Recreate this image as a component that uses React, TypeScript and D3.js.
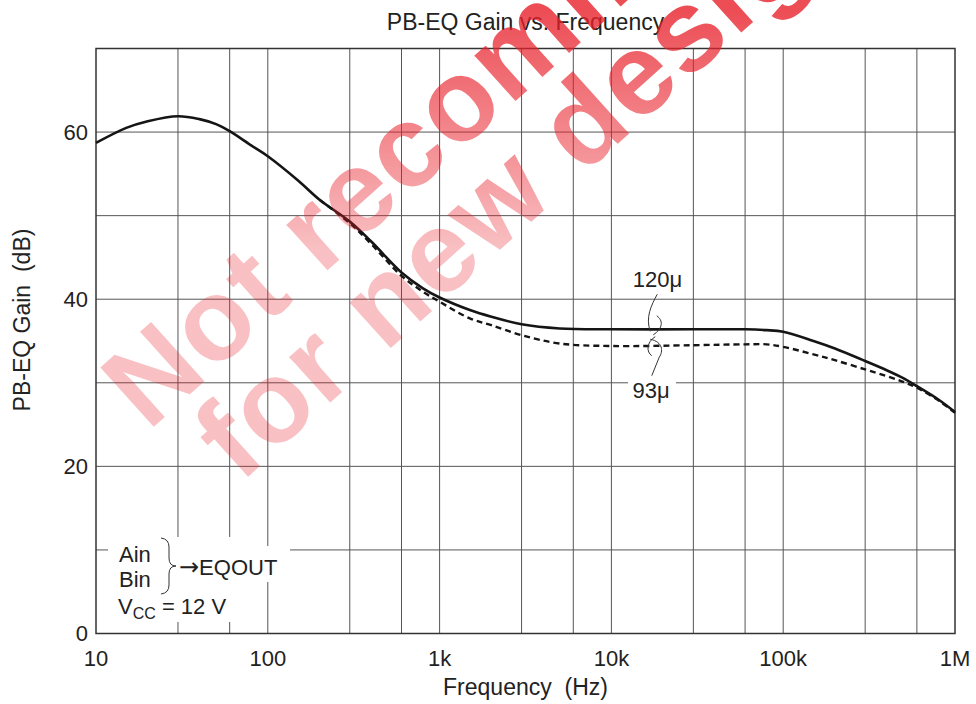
import React from 'react'
import * as d3 from 'd3'

// frequencies (Hz) and gain (dB)
const freqs120 = [10, 15, 20, 30, 40, 50, 60, 80, 100, 150, 200, 300, 400, 600, 800, 1000, 1500, 2000, 3000, 5000, 10000, 30000, 60000, 80000, 100000, 150000, 200000, 300000, 400000, 500000, 600000, 800000, 1000000]
const gain120 = [58.7, 60.5, 61.3, 61.9, 61.55, 60.95, 60.1, 58.4, 57.1, 54.2, 51.9, 49.3, 46.9, 43.2, 41.3, 40.2, 38.7, 37.9, 37.0, 36.5, 36.4, 36.4, 36.4, 36.3, 36.1, 35.0, 34.1, 32.6, 31.5, 30.55, 29.6, 28.0, 26.5]

const freqs93 = [200, 300, 400, 600, 800, 1000, 1500, 2000, 3000, 5000, 10000, 30000, 60000, 80000, 100000, 150000, 200000, 300000, 400000, 500000, 600000, 800000, 1000000]
const gain93 = [51.9, 49.1, 46.6, 42.8, 40.9, 39.7, 37.7, 36.9, 35.7, 34.7, 34.4, 34.5, 34.6, 34.6, 34.3, 33.4, 32.7, 31.6, 30.8, 30.1, 29.4, 27.9, 26.4]

const xTickValues = [10, 100, 1000, 10000, 100000, 1000000]
const xTickLabels = ['10', '100', '1k', '10k', '100k', '1M']
const xGridValues = [30, 60, 100, 300, 600, 1000, 3000, 6000, 10000, 30000, 60000, 100000, 300000, 600000]
const yTickValues = [0, 20, 40, 60]
const yGridValues = [10, 20, 30, 40, 50, 60]

const watermarkLines = ['Not recommended', 'for new designs']

const FONT = '"Liberation Sans", Arial, Helvetica, sans-serif'

const ANGLE = 42
// screen point -> coordinates inside a group rotated by -ANGLE
function toRotated(px: number, py: number) {
    const a = ANGLE * Math.PI / 180
    return [px * Math.cos(a) - py * Math.sin(a), px * Math.sin(a) + py * Math.cos(a)]
}

export default function App() {
    const width = 976
    const height = 704
    const margin = { top: 48.5, right: 21, bottom: 70.5, left: 96 }

    const x = d3.scaleLog().domain([10, 1e6]).range([margin.left, width - margin.right])
    const y = d3.scaleLinear().domain([0, 70]).range([height - margin.bottom, margin.top])

    const line = d3.line<[number, number]>()
        .x(d => x(d[0]))
        .y(d => y(d[1]))
        .curve(d3.curveCatmullRom.alpha(0.5))

    const d120 = line(freqs120.map((f, i) => [f, gain120[i]] as [number, number])) ?? ''
    const d93 = line(freqs93.map((f, i) => [f, gain93[i]] as [number, number])) ?? ''

    const x0 = x.range()[0], x1 = x.range()[1]
    const y0 = y.range()[0], y1 = y.range()[1]

    // leader marks anchor
    const ax = x(18000)
    const ay = y(36.4)
    const by = y(34.5)

    const wmStarts = [toRotated(148, 432), toRotated(240, 484)]

    return (
        <svg width={width} height={height} style={{ position: 'absolute', left: 0, top: 0, background: '#fff' }}
            fontFamily={FONT}>
            <defs>
                <linearGradient id="wm" gradientUnits="userSpaceOnUse" gradientTransform={`rotate(${ANGLE})`}
                    x1="0" y1="10" x2="0" y2="250">
                    <stop offset="0" stopColor="#e8202a" stopOpacity="0.8" />
                    <stop offset="1" stopColor="#e8202a" stopOpacity="0.28" />
                </linearGradient>
            </defs>

            {/* grid */}
            <g stroke="#555" strokeWidth={1}>
                {xGridValues.map(v => (
                    <line key={'gx' + v} x1={x(v)} x2={x(v)} y1={y0} y2={y1} />
                ))}
                {yGridValues.map(v => (
                    <line key={'gy' + v} x1={x0} x2={x1} y1={y(v)} y2={y(v)} />
                ))}
            </g>
            <rect x={x0} y={y1} width={x1 - x0} height={y0 - y1} fill="none" stroke="#333" strokeWidth={1.5} />

            {/* curves */}
            <path d={d120} fill="none" stroke="#151515" strokeWidth={2.6} />
            <path d={d93} fill="none" stroke="#151515" strokeWidth={2.4} strokeDasharray="6,4" />

            {/* curve labels */}
            <rect x={628} y={378} width={48} height={24} fill="#fff" />
            <text x={657.5} y={286.7} fontSize={22} textAnchor="middle" fill="#222">120μ</text>
            <text x={651} y={398.3} fontSize={22} textAnchor="middle" fill="#222">93μ</text>
            <g fill="none" stroke="#333" strokeWidth={1}>
                <path d={`M${ax + 2},${ay - 35} C${ax - 4},${ay - 24} ${ax - 10},${ay - 12} ${ax - 5},${ay + 2}`} />
                <path d={`M${ax + 1.5},${ay - 13.5} C${ax + 8},${ay - 9} ${ax + 8},${ay - 1} ${ax - 2},${ay + 5.5}`} />
                <path d={`M${ax},${by - 8.5} C${ax - 9},${by - 3} ${ax - 9},${by + 7} ${ax - 3.5},${by + 10.5}`} />
                <path d={`M${ax - 5},${by - 6} C${ax + 8},${by - 3} ${ax + 8},${by + 6} ${ax + 4},${by + 12} L${ax - 3.5},${by + 30.5}`} />
            </g>

            {/* conditions box */}
            <rect x={108} y={537} width={137} height={85} fill="#fff" />
            <rect x={108} y={546} width={182} height={36} fill="#fff" />
            <g fontSize={22} fill="#222">
                <text x={119} y={561.7}>Ain</text>
                <text x={119} y={586.7}>Bin</text>
                <text x={179} y={575}><tspan fontFamily="DejaVu Sans" fontSize={24}>→</tspan>EQOUT</text>
                <text x={118} y={614}>V<tspan fontSize={16} dy={5}>CC</tspan><tspan dy={-5}> = 12 V</tspan></text>
            </g>
            <path d="M161,538 Q169,539 169,547 L169,558 Q169,566 176,566 Q169,566 169,574 L169,585 Q169,593 161,594"
                fill="none" stroke="#333" strokeWidth={1} />

            {/* axes labels */}
            <g fontSize={22} fill="#222">
                {yTickValues.map(v => (
                    <text key={'yt' + v} x={88} y={y(v) + 7.5} textAnchor="end">{v}</text>
                ))}
                {xTickValues.map((v, i) => (
                    <text key={'xt' + v} x={x(v)} y={666} textAnchor="middle">{xTickLabels[i]}</text>
                ))}
            </g>
            <text x={(x0 + x1) / 2} y={30} fontSize={23} textAnchor="middle" fill="#222">PB-EQ Gain vs. Frequency</text>
            <text x={(x0 + x1) / 2} y={695} fontSize={23} textAnchor="middle" fill="#222" style={{ whiteSpace: 'pre' }}>{'Frequency  (Hz)'}</text>
            <text transform={`translate(30,320) rotate(-90)`} fontSize={23} textAnchor="middle" fill="#222" style={{ whiteSpace: 'pre' }}>{'PB-EQ Gain  (dB)'}</text>

            {/* watermark */}
            <g transform={`rotate(${-ANGLE})`} fill="url(#wm)" fontSize={116} fontWeight="bold" fontFamily={FONT} letterSpacing={2}>
                {watermarkLines.map((t, i) => (
                    <text key={t} x={wmStarts[i][0]} y={wmStarts[i][1]}>{t}</text>
                ))}
            </g>
        </svg>
    )
}
